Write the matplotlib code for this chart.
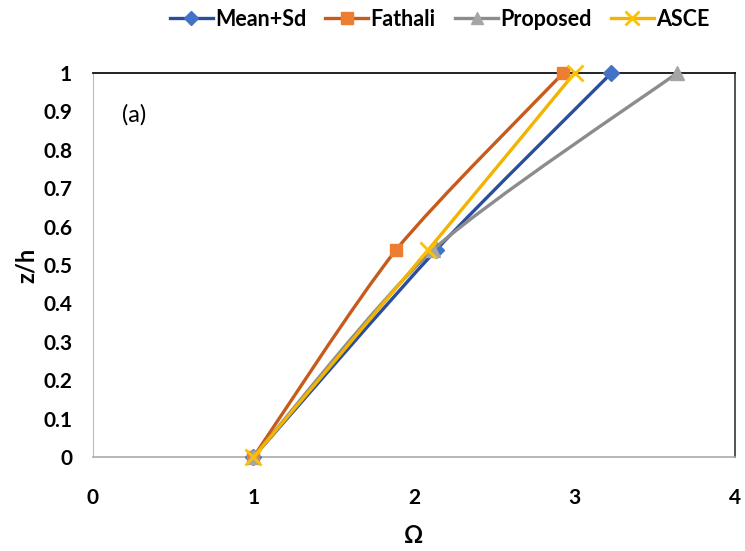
import matplotlib.pyplot as plt
import numpy as np
from matplotlib.path import Path
from matplotlib.patches import PathPatch
from matplotlib.lines import Line2D

# z/h levels and Omega values for each method
z_h = [0, 0.54, 1]
omega_mean_sd = [1, 2.14, 3.23]
omega_fathali = [1, 1.89, 2.93]
omega_proposed = [1, 2.12, 3.64]
omega_asce = [1, 2.09, 3.0]

series_names = ['Mean+Sd', 'Fathali', 'Proposed', 'ASCE']
line_colors = ['#2A4E9B', '#C65B1C', '#8C8C8C', '#F2B400']
marker_colors = ['#4472C4', '#ED7D31', '#A5A5A5', '#FFC000']
markers = ['D', 's', '^', 'x']
marker_sizes = [8, 9, 10, 11]

x_ticks = [0, 1, 2, 3, 4]
y_ticks = [0, 0.1, 0.2, 0.3, 0.4, 0.5, 0.6, 0.7, 0.8, 0.9, 1]

plt.rcParams['font.family'] = ['Lato', 'DejaVu Sans']


def smooth_path(ax, xs, ys):
    # excel-style smoothed line: catmull-rom segments as cubic beziers in pixel space
    pts = ax.transData.transform(np.column_stack([xs, ys]))
    n = len(pts)
    verts = [pts[0]]
    codes = [Path.MOVETO]
    for i in range(n - 1):
        p0 = pts[i - 1] if i > 0 else pts[i]
        p1 = pts[i]
        p2 = pts[i + 1]
        p3 = pts[i + 2] if i + 2 < n else pts[i + 1]
        c1 = p1 + (p2 - p0) / 8.0
        c2 = p2 - (p3 - p1) / 8.0
        verts += [c1, c2, p2]
        codes += [Path.CURVE4] * 3
    verts = ax.transData.inverted().transform(np.array(verts))
    return Path(verts, codes)


def main():
    fig = plt.figure(figsize=(7.45, 5.51), dpi=100)
    ax = fig.add_axes([0.1248, 0.1706, 0.8618, 0.6969])
    ax.set_xlim(0, 4)
    ax.set_ylim(0, 1)

    all_x = [omega_mean_sd, omega_fathali, omega_proposed, omega_asce]
    handles = []
    for k in range(4):
        path = smooth_path(ax, all_x[k], z_h)
        ax.add_patch(PathPatch(path, facecolor='none', edgecolor=line_colors[k],
                               lw=2.4, zorder=3 + k, capstyle='round'))
        mew = 2 if markers[k] == 'x' else 1
        ax.plot(all_x[k], z_h, linestyle='none', marker=markers[k],
                markersize=marker_sizes[k], markerfacecolor=marker_colors[k],
                markeredgecolor=marker_colors[k], markeredgewidth=mew,
                zorder=3 + k, clip_on=False)
        handles.append(Line2D([0], [0], color=line_colors[k], lw=2.4,
                              marker=markers[k], markersize=marker_sizes[k] - 1,
                              markerfacecolor=marker_colors[k],
                              markeredgecolor=marker_colors[k], markeredgewidth=mew))

    ax.set_xticks(x_ticks)
    ax.set_yticks(y_ticks)
    ax.set_xticklabels([str(t) for t in x_ticks])
    ax.set_yticklabels(['0', '0.1', '0.2', '0.3', '0.4', '0.5', '0.6', '0.7', '0.8', '0.9', '1'])
    ax.tick_params(length=0, labelsize=15)
    ax.tick_params(axis='y', pad=15)
    ax.tick_params(axis='x', pad=22)
    for lab in ax.get_xticklabels() + ax.get_yticklabels():
        lab.set_fontweight('bold')

    ax.spines['top'].set_color('#111111')
    ax.spines['top'].set_linewidth(1.3)
    ax.spines['right'].set_color('#444444')
    ax.spines['right'].set_linewidth(1.3)
    ax.spines['left'].set_color('#BBBBBB')
    ax.spines['bottom'].set_color('#AAAAAA')
    ax.spines['bottom'].set_linewidth(1.2)

    ax.set_xlabel('Ω', fontsize=17, fontweight='bold', labelpad=12)
    ax.set_ylabel('z/h', fontsize=17, fontweight='bold', labelpad=4)
    ax.text(0.045, 0.89, '(a)', fontsize=17, va='center', ha='left',
            transform=ax.transAxes)

    fig.legend(handles, series_names, loc='center', bbox_to_anchor=(0.59, 0.965),
               ncol=4, frameon=False, handlelength=2.0, handletextpad=0.1,
               columnspacing=0.9, prop={'size': 15.5, 'weight': 'bold'})

    fig.savefig('out.png', dpi=100)


main()
